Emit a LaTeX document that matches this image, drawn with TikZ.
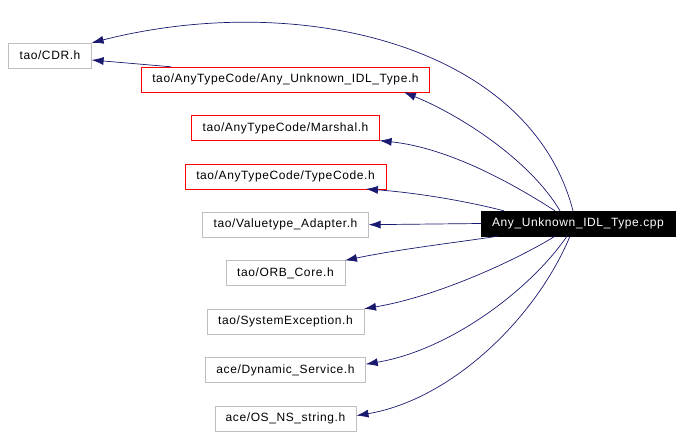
\documentclass[tikz,border=0pt]{standalone}
\usepackage{fontspec}
\setmainfont{Liberation Sans}[LetterSpace=5.0]
\usetikzlibrary{positioning, arrows.meta}
\definecolor{depblue}{HTML}{191970}
\tikzset{
  file/.style={
    draw=black!25, rectangle, minimum height=25pt,
    inner xsep=11pt, inner ysep=0pt, font=\fontsize{12}{14}\selectfont
  },
  incl/.style={file, draw=red},
  mainfile/.style={file, draw=black, fill=black, text=white},
  dep/.style={-{Latex[length=12pt,width=8pt]}, draw=depblue, line width=0.7pt},
  x=1pt, y=-1pt
}

\begin{document}
\begin{tikzpicture}
      \useasboundingbox (0,0) rectangle (683,433);

      \node[file] (cdr) at (50,55.5) {tao/CDR.h};
      \node[incl] (idlh) at (285.5,79.5) {tao/AnyTypeCode/Any\_Unknown\_IDL\_Type.h};
      \node[incl, below = 23pt of idlh] (marshal) {tao/AnyTypeCode/Marshal.h};
      \node[incl, below = 23pt of marshal] (typecode) {tao/AnyTypeCode/TypeCode.h};
      \node[file, below = 23pt of typecode] (valuetype) {tao/Valuetype\_Adapter.h};
      \node[file, below = 23pt of valuetype] (orbcore) {tao/ORB\_Core.h};
      \node[file, below = 23pt of orbcore] (sysexc) {tao/SystemException.h};
      \node[file, below = 23pt of sysexc] (dynsvc) {ace/Dynamic\_Service.h};
      \node[file, below = 23pt of dynsvc] (nsstring) {ace/OS\_NS\_string.h};
      \node[mainfile] (cpp) at (578,223.5) {Any\_Unknown\_IDL\_Type.cpp};

      % includes of the .cpp
      \draw[dep] ([xshift=-5pt]cpp.north) .. controls (530,45) and (300,-10) .. (cdr.north east);
      \draw[dep] ([xshift=-18pt]cpp.north) .. controls (530,160) and (460,115) .. ([xshift=-26pt]idlh.south east);
      \draw[dep] ([xshift=-23pt]cpp.north) .. controls (515,185) and (450,148) .. (marshal.south east);
      \draw[dep] ([xshift=23pt]cpp.north west) .. controls (470,202) and (420,193) .. ([xshift=-20pt]typecode.south east);
      \draw[dep] (cpp.west) -- (valuetype.east);
      \draw[dep] ([xshift=17pt]cpp.south west) .. controls (460,242) and (400,249) .. (orbcore.north east);
      \draw[dep] ([xshift=-23pt]cpp.south) .. controls (520,258) and (440,296) .. (sysexc.north east);
      \draw[dep] ([xshift=-11pt]cpp.south) .. controls (530,290) and (450,350) .. ([yshift=-7pt]dynsvc.north east);
      \draw[dep] ([xshift=-8pt]cpp.south) .. controls (535,320) and (450,400) .. ([yshift=-10pt]nsstring.north east);

      % includes of the .h
      \draw[dep] ([xshift=30pt]idlh.north west) -- ([yshift=-4.5pt]cdr.east);

    \end{tikzpicture}
\end{document}
